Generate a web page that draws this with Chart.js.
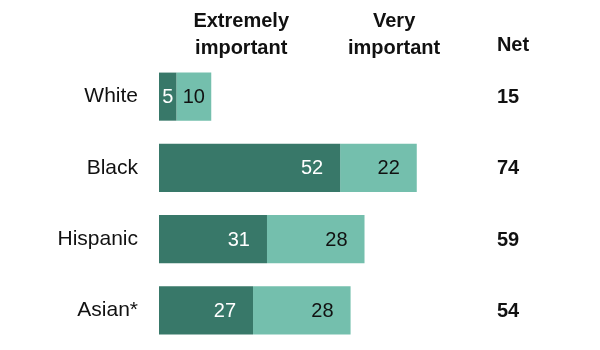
<!DOCTYPE html>
<html>
<head>
<meta charset="utf-8">
<script src="https://cdn.jsdelivr.net/npm/chart.js@4.4.1/dist/chart.umd.min.js"></script>
<style>
    html, body { margin: 0; padding: 0; background: #ffffff; overflow: hidden; }
    canvas { display: block; }
</style>
</head>
<body>
<canvas id="chart" width="600" height="350"></canvas>
<script>
const groups = ['White', 'Black', 'Hispanic', 'Asian*'];
const extremely = [5, 52, 31, 27];
const very = [10, 22, 28, 28];
const net = [15, 74, 59, 54];
const seriesNames = ['Extremely\nimportant', 'Very\nimportant'];

const darkTeal = '#387869';
const lightTeal = '#74bfad';
const fontFamily = '"Liberation Sans", Arial, sans-serif';

// positions of header / net column on the value axis
const headerAt = { extremely: 23.6, very: 67.5, net: 97 };

const labelsPlugin = {
    id: 'barLabels',
    afterDatasetsDraw(chart) {
        const ctx = chart.ctx;
        const x = chart.scales.x;
        const y = chart.scales.y;
        ctx.save();
        ctx.textBaseline = 'middle';
        ctx.font = '20px ' + fontFamily;

        // values inside the segments
        chart.data.datasets.forEach((ds, di) => {
            const meta = chart.getDatasetMeta(di);
            meta.data.forEach((bar, i) => {
                const left = Math.min(bar.base, bar.x);
                const right = Math.max(bar.base, bar.x);
                const w = right - left;
                ctx.fillStyle = di === 0 ? '#ffffff' : '#111111';
                if (w > 60) {
                    ctx.textAlign = 'right';
                    ctx.fillText(ds.data[i], right - 17, bar.y + 1);
                } else {
                    ctx.textAlign = 'center';
                    ctx.fillText(ds.data[i], (left + right) / 2, bar.y + 1);
                }
            });
        });

        // net column
        ctx.fillStyle = '#111111';
        ctx.textAlign = 'left';
        ctx.font = 'bold 20px ' + fontFamily;
        const netX = x.getPixelForValue(headerAt.net);
        net.forEach((v, i) => {
            ctx.fillText(v, netX, y.getPixelForValue(i) + 1);
        });

        // headers
        ctx.textAlign = 'center';
        const heads = [
            [seriesNames[0], x.getPixelForValue(headerAt.extremely)],
            [seriesNames[1], x.getPixelForValue(headerAt.very)]
        ];
        heads.forEach(([txt, cx]) => {
            txt.split('\n').forEach((line, li) => {
                ctx.fillText(line, cx, 21 + li * 27);
            });
        });
        ctx.textAlign = 'left';
        ctx.fillText('Net', netX, 45);
        ctx.restore();
    }
};

new Chart(document.getElementById('chart'), {
    type: 'bar',
    data: {
        labels: groups,
        datasets: [
            {
                label: 'Extremely important',
                data: extremely,
                backgroundColor: darkTeal,
                borderWidth: 0
            },
            {
                label: 'Very important',
                data: very,
                backgroundColor: lightTeal,
                borderWidth: 0
            }
        ]
    },
    options: {
        indexAxis: 'y',
        responsive: false,
        animation: false,
        layout: {
            padding: { top: 61, bottom: 4, left: 0, right: 23 }
        },
        datasets: {
            bar: {
                categoryPercentage: 1,
                barPercentage: 0.675
            }
        },
        scales: {
            x: {
                stacked: true,
                display: false,
                min: 0,
                max: 120
            },
            y: {
                stacked: true,
                border: { display: false },
                grid: { display: false, drawTicks: false },
                ticks: {
                    color: '#111111',
                    padding: 21,
                    font: { family: fontFamily, size: 21 }
                },
                afterFit(scale) {
                    scale.width = 159;
                    // labels sit beside the bars, no extra room needed above/below
                    scale.paddingTop = 0;
                    scale.paddingBottom = 0;
                }
            }
        },
        plugins: {
            legend: { display: false },
            tooltip: { enabled: false }
        }
    },
    plugins: [labelsPlugin]
});
</script>
</body>
</html>
